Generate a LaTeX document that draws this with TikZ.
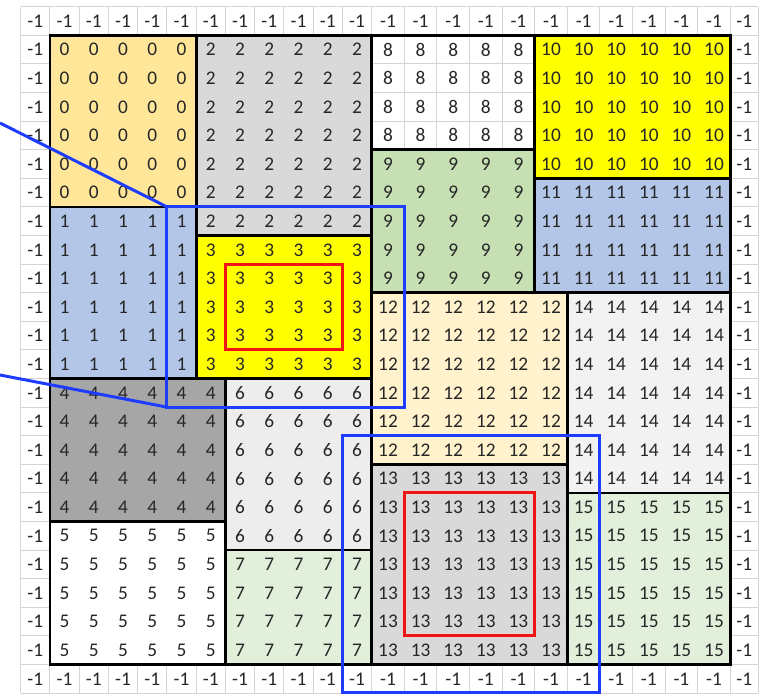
\documentclass[tikz,border=0pt]{standalone}
\usepackage{fontspec}
\setmainfont{Carlito}
\usetikzlibrary{calc}

\definecolor{blkgold}{HTML}{FFE699}
\definecolor{blkgray}{HTML}{D9D9D9}
\definecolor{blkyellow}{HTML}{FFFF00}
\definecolor{blkgreen}{HTML}{C6E0B4}
\definecolor{blkblue}{HTML}{B4C6E7}
\definecolor{blkdark}{HTML}{A6A6A6}
\definecolor{blklight}{HTML}{EDEDED}
\definecolor{blkmint}{HTML}{E2EFDA}
\definecolor{blkcream}{HTML}{FFF2CC}
\definecolor{blkpale}{HTML}{F2F2F2}
\definecolor{gridgray}{HTML}{D4D4D4}
\definecolor{markblue}{HTML}{1E3CFF}
\definecolor{markred}{HTML}{F01414}

\tikzset{
  cell/.style={inner sep=0pt, font=\fontsize{11}{12}\selectfont, text=black!85},
  gridline/.style={draw=gridgray, line width=0.55pt},
  blockedge/.style={draw=black, line width=1.5pt},
  bluebox/.style={draw=markblue, line width=1.7pt},
  redbox/.style={draw=markred, line width=1.7pt}
}

\begin{document}
\begin{tikzpicture}[x=0.02cm, y=-0.02cm,
  declare function={
    cx(\k)=(\k<=12)*(20.7+29.25*\k)+(\k>12)*(371.7+32.6*(\k-12))-(\k>23)*4.6;
    ry(\k)=6.7+28.6*\k;
  }]

\fill[white] (0,0) rectangle (764,694);
\useasboundingbox (0,0) rectangle (764,694);

% sheet grid
\foreach \k in {0,...,24}{
  \draw[gridline] ({cx(\k)},{ry(0)}) -- ({cx(\k)},{ry(24)});
  \draw[gridline] ({cx(0)},{ry(\k)}) -- ({cx(24)},{ry(\k)});
}

% regions: first col/row, last col/row, fill, value
\def\regions{1/1/5/6/blkgold/0, 6/1/11/7/blkgray/2, 12/1/16/4/none/8,
  17/1/22/5/blkyellow/10, 12/5/16/9/blkgreen/9, 17/6/22/9/blkblue/11,
  1/7/5/12/blkblue/1, 6/8/11/12/blkyellow/3, 1/13/6/17/blkdark/4,
  7/13/11/18/blklight/6, 1/18/6/22/white/5, 7/19/11/22/blkmint/7,
  12/10/17/15/blkcream/12, 18/10/22/16/blkpale/14,
  12/16/17/22/blkgray/13, 18/17/22/22/blkmint/15}

\foreach \ca/\ra/\cb/\rb/\fc/\val in \regions
  \path[fill=\fc] ({cx(\ca)},{ry(\ra)}) rectangle ({cx(\cb+1)},{ry(\rb+1)});
\foreach \ca/\ra/\cb/\rb/\fc/\val in \regions
  \draw[blockedge] ({cx(\ca)},{ry(\ra)}) rectangle ({cx(\cb+1)},{ry(\rb+1)});

% cell values
\foreach \ca/\ra/\cb/\rb/\fc/\val in \regions{
  \foreach \i in {\ca,...,\cb}{
    \foreach \j in {\ra,...,\rb}{
      \node[cell] (c-\i-\j) at ({(cx(\i)+cx(\i+1))/2},{ry(\j)+14.3}) {\val};
    }
  }
}
\foreach \i in {0,...,23}{
  \node[cell] (c-\i-0) at ({(cx(\i)+cx(\i+1))/2},{ry(0)+14.3}) {-1};
  \node[cell] (c-\i-23) at ({(cx(\i)+cx(\i+1))/2},{ry(23)+14.3}) {-1};
}
\foreach \j in {1,...,22}{
  \node[cell] (c-0-\j) at ({(cx(0)+cx(1))/2},{ry(\j)+14.3}) {-1};
  \node[cell] (c-23-\j) at ({(cx(23)+cx(24))/2},{ry(\j)+14.3}) {-1};
}

% highlighted windows
\draw[redbox] ({cx(7)},{ry(9)}) rectangle ({cx(11)},{ry(12)});
\draw[redbox] ({cx(13)},{ry(17)}) rectangle ({cx(17)},{ry(22)});

\coordinate (winnw) at ({cx(5)},{ry(7)});
\coordinate (winsw) at ({cx(5)},{ry(14)});
\coordinate (winse) at ({cx(13)},{ry(14)});
\coordinate (zoomtop) at (0,123);
\coordinate (zoombot) at (0,375);
\draw[bluebox] (winnw) rectangle (winse);
\draw[bluebox] (zoomtop) -- (winnw);
\draw[bluebox] (zoombot) -- (winsw);
\draw[bluebox] ({cx(11)},{ry(15)}) rectangle ({cx(19)},{ry(24)-0.8});

\end{tikzpicture}
\end{document}
